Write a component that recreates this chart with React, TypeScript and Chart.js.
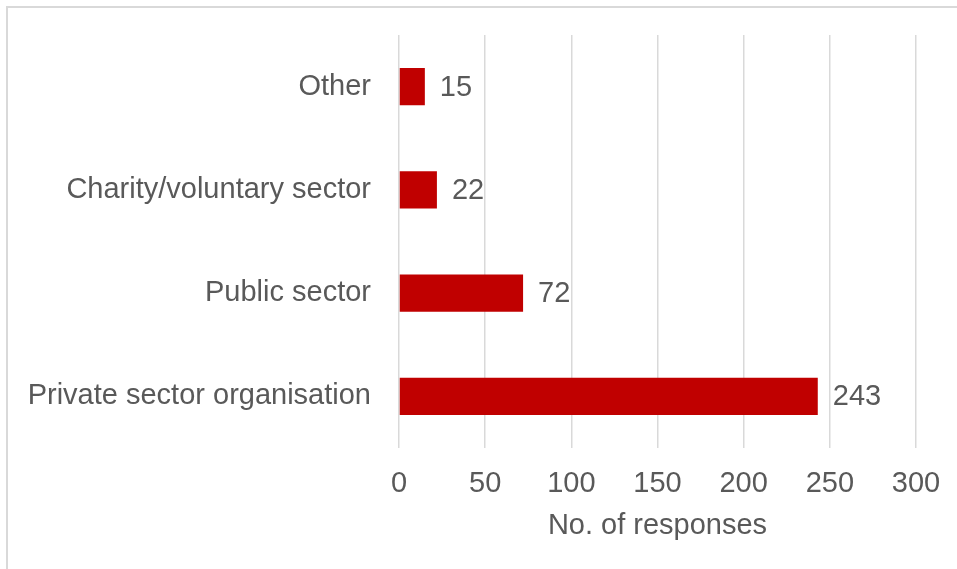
import React, { useEffect, useRef } from "react";
import { Chart, registerables } from "chart.js";

Chart.register(...registerables);

const categories = ["Other", "Charity/voluntary sector", "Public sector", "Private sector organisation"];
const responses = [15, 22, 72, 243];
const xTicks = [0, 50, 100, 150, 200, 250, 300];
const axisTitle = "No. of responses";

const FONT = "'Liberation Sans', Arial, sans-serif";
const TEXT = "#595959";

const valueLabels = {
  id: "valueLabels",
  afterDatasetsDraw(chart: any) {
    const ctx = chart.ctx;
    const meta = chart.getDatasetMeta(0);
    ctx.save();
    ctx.font = `29px ${FONT}`;
    ctx.fillStyle = TEXT;
    ctx.textAlign = "left";
    ctx.textBaseline = "middle";
    meta.data.forEach((bar: any, i: number) => {
      ctx.fillText(String(responses[i]), bar.x + 15, bar.y + 1);
    });
    ctx.restore();
  },
};

export default function App() {
  const ref = useRef<HTMLCanvasElement>(null);
  useEffect(() => {
    const chart = new Chart(ref.current!, {
      type: "bar",
      data: {
        labels: categories,
        datasets: [
          {
            data: responses,
            backgroundColor: "#C00000",
            borderWidth: 0,
            categoryPercentage: 1,
            barPercentage: 0.36,
          },
        ],
      },
      plugins: [valueLabels],
      options: {
        indexAxis: "y",
        animation: false,
        responsive: false,
        maintainAspectRatio: false,
        layout: { padding: { top: 35, right: 41, left: 0, bottom: 0 } },
        plugins: { legend: { display: false }, tooltip: { enabled: false } },
        scales: {
          x: {
            min: 0,
            max: 300,
            afterBuildTicks: (s: any) => {
              s.ticks = xTicks.map((v) => ({ value: v }));
            },
            afterFit: (s: any) => {
              s.height = 121;
              s.paddingLeft = 0;
              s.paddingRight = 0;
            },
            ticks: {
              color: TEXT,
              font: { family: FONT, size: 29 },
              padding: 19,
            },
            grid: { color: "#d9d9d9", lineWidth: 1.5, drawTicks: false },
            border: { display: false },
            title: {
              display: true,
              text: axisTitle,
              color: TEXT,
              font: { family: FONT, size: 29 },
              padding: { top: 0, bottom: 26 },
            },
          },
          y: {
            afterFit: (s: any) => {
              s.width = 399;
              s.paddingTop = 0;
              s.paddingBottom = 0;
            },
            ticks: {
              color: TEXT,
              font: { family: FONT, size: 29 },
              padding: 28,
            },
            grid: { display: false, drawTicks: false },
            border: { display: false },
          },
        },
      },
    });
    return () => chart.destroy();
  }, []);
  return (
    <div style={{ position: "fixed", left: 0, top: 0, width: 957, height: 569, overflow: "hidden", background: "#fff" }}>
      <div
        style={{
          position: "absolute",
          left: 6,
          top: 6,
          width: 1200,
          height: 800,
          borderTop: "2px solid #d9d9d9",
          borderLeft: "2px solid #d9d9d9",
        }}
      />
      <canvas ref={ref} width={957} height={569} style={{ position: "absolute", left: 0, top: 0, width: 957, height: 569 }} />
    </div>
  );
}
